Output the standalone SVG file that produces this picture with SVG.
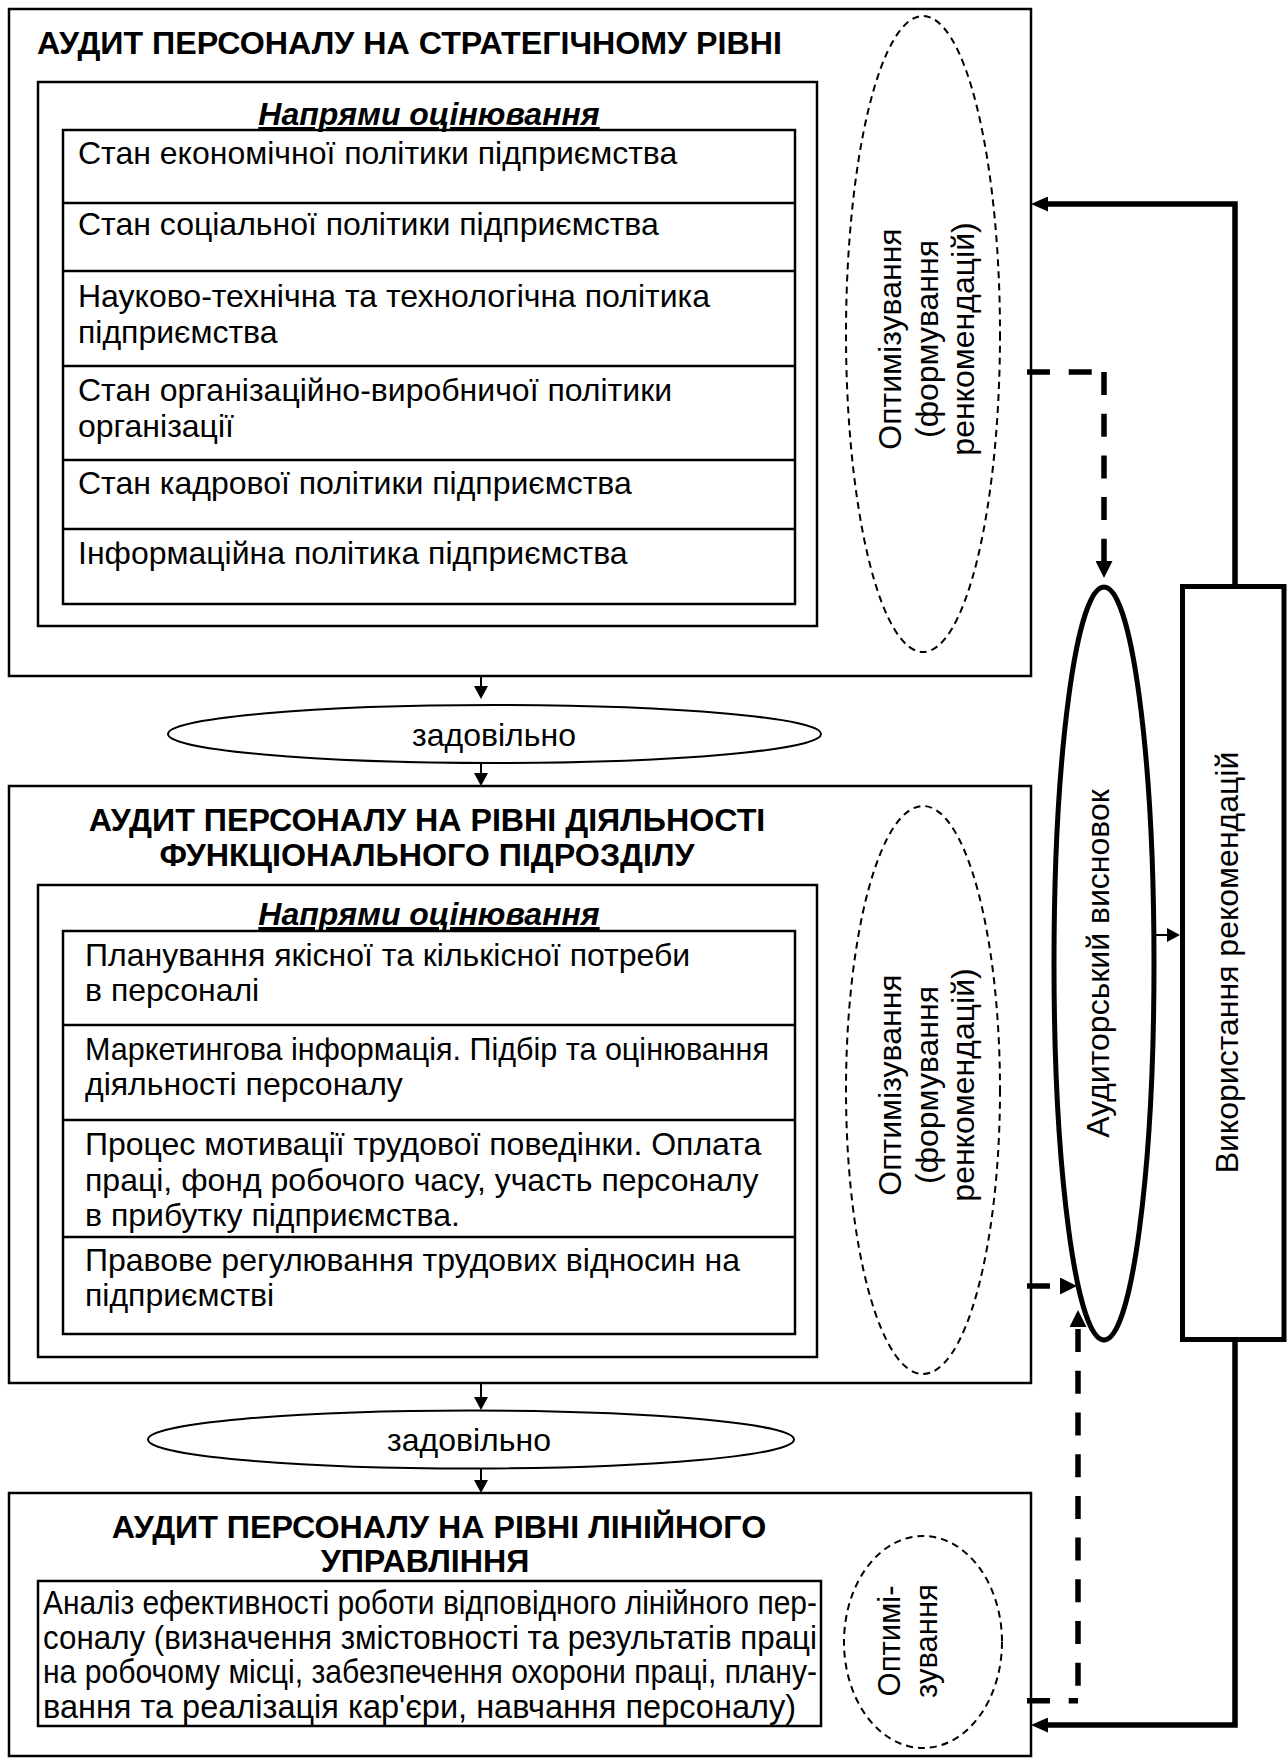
<svg xmlns="http://www.w3.org/2000/svg" width="1287" height="1758" viewBox="0 0 1287 1758">
<style>
.box{fill:none;stroke:#000;stroke-width:2.5}
.ln{fill:none;stroke:#000;stroke-width:2.5}
.t{font-family:"Liberation Sans",Arial,sans-serif;font-size:32px;fill:#000}
.b{font-weight:bold;font-size:32.2px}
.bi{font-weight:bold;font-style:italic;text-decoration:underline}
.s3{font-size:32.5px}
.dell{fill:none;stroke:#000;stroke-width:2;stroke-dasharray:7 5}
.ell{fill:#fff;stroke:#000;stroke-width:2}
.thin{fill:none;stroke:#000;stroke-width:2}
.thick{fill:none;stroke:#000;stroke-width:5.5}
.dash{fill:none;stroke:#000;stroke-width:5.5;stroke-dasharray:23 18.7}
</style>
<defs>
<marker id="as" markerUnits="userSpaceOnUse" viewBox="0 0 13 14" markerWidth="13" markerHeight="14" refX="0" refY="7" orient="auto"><path d="M0,0 L13,7 L0,14 Z" fill="#000"/></marker>
<marker id="ah" markerUnits="userSpaceOnUse" viewBox="0 0 17 15" markerWidth="17" markerHeight="15" refX="0" refY="7.5" orient="auto"><path d="M0,0 L17,7.5 L0,15 Z" fill="#000"/></marker>
<marker id="ad" markerUnits="userSpaceOnUse" viewBox="0 0 17 17" markerWidth="17" markerHeight="17" refX="0" refY="8.5" orient="auto"><path d="M0,0 L17,8.5 L0,17 Z" fill="#000"/></marker>
</defs>
<rect width="1287" height="1758" fill="#fff"/>

<g id="level-strategic">
<rect class="box" x="9" y="9" width="1022" height="667"/>
<text class="t b" x="37" y="54">АУДИТ ПЕРСОНАЛУ НА СТРАТЕГІЧНОМУ РІВНІ</text>
<rect class="box" x="38" y="82" width="779" height="544"/>
<text class="t bi" x="429" y="125" text-anchor="middle">Напрями оцінювання</text>
<rect class="box" x="63" y="130" width="732" height="474"/>
<path class="ln" d="M63,203H795M63,271H795M63,366H795M63,460H795M63,529H795"/>
<text class="t" x="78" y="164">Стан економічної політики підприємства</text>
<text class="t" x="78" y="235">Стан соціальної політики підприємства</text>
<text class="t" x="78" y="307">Науково-технічна та технологічна політика</text>
<text class="t" x="78" y="343">підприємства</text>
<text class="t" x="78" y="401">Стан організаційно-виробничої політики</text>
<text class="t" x="78" y="437">організації</text>
<text class="t" x="78" y="494">Стан кадрової політики підприємства</text>
<text class="t" x="78" y="564">Інформаційна політика підприємства</text>
</g>

<g id="opt-1">
<ellipse class="dell" cx="923" cy="334" rx="77" ry="318"/>
<text class="t" transform="translate(901,339) rotate(-90)" text-anchor="middle">Оптимізування</text>
<text class="t" transform="translate(937.5,339) rotate(-90)" text-anchor="middle">(формування</text>
<text class="t" transform="translate(974,339) rotate(-90)" text-anchor="middle">ренкомендацій)</text>
</g>

<g id="ok-1">
<ellipse class="ell" cx="494.5" cy="734" rx="326.5" ry="29"/>
<text class="t" x="494" y="746" text-anchor="middle">задовільно</text>
</g>

<g id="level-functional">
<rect class="box" x="9" y="786" width="1022" height="597"/>
<text class="t b" x="427" y="831" text-anchor="middle">АУДИТ ПЕРСОНАЛУ НА РІВНІ ДІЯЛЬНОСТІ</text>
<text class="t b" x="427" y="866" text-anchor="middle">ФУНКЦІОНАЛЬНОГО ПІДРОЗДІЛУ</text>
<rect class="box" x="38" y="885" width="779" height="472"/>
<text class="t bi" x="429" y="925" text-anchor="middle">Напрями оцінювання</text>
<rect class="box" x="63" y="931" width="732" height="403"/>
<path class="ln" d="M63,1025H795M63,1120H795M63,1237H795"/>
<text class="t" x="85" y="966">Планування якісної та кількісної потреби</text>
<text class="t" x="85" y="1001">в персоналі</text>
<text class="t" x="85" y="1060" textLength="684" lengthAdjust="spacingAndGlyphs">Маркетингова інформація. Підбір та оцінювання</text>
<text class="t" x="85" y="1095">діяльності персоналу</text>
<text class="t" x="85" y="1155">Процес мотивації трудової поведінки. Оплата</text>
<text class="t" x="85" y="1190.5">праці, фонд робочого часу, участь персоналу</text>
<text class="t" x="85" y="1226">в прибутку підприємства.</text>
<text class="t" x="85" y="1271">Правове регулювання трудових відносин на</text>
<text class="t" x="85" y="1306">підприємстві</text>
</g>

<g id="opt-2">
<ellipse class="dell" cx="923" cy="1090" rx="77" ry="284"/>
<text class="t" transform="translate(901,1085) rotate(-90)" text-anchor="middle">Оптимізування</text>
<text class="t" transform="translate(937.5,1085) rotate(-90)" text-anchor="middle">(формування</text>
<text class="t" transform="translate(974,1085) rotate(-90)" text-anchor="middle">ренкомендацій)</text>
</g>

<g id="ok-2">
<ellipse class="ell" cx="471" cy="1439.5" rx="323" ry="29"/>
<text class="t" x="469" y="1451" text-anchor="middle">задовільно</text>
</g>

<g id="level-line">
<rect class="box" x="9" y="1493" width="1022" height="263"/>
<text class="t b" x="439" y="1538" text-anchor="middle">АУДИТ ПЕРСОНАЛУ НА РІВНІ ЛІНІЙНОГО</text>
<text class="t b" x="425" y="1572" text-anchor="middle">УПРАВЛІННЯ</text>
<rect class="box" x="38" y="1581" width="783" height="145"/>
<text class="t s3" x="43" y="1614" textLength="774" lengthAdjust="spacingAndGlyphs">Аналіз ефективності роботи відповідного лінійного пер-</text>
<text class="t s3" x="43" y="1648.5" textLength="774" lengthAdjust="spacingAndGlyphs">соналу (визначення змістовності та результатів праці</text>
<text class="t s3" x="43" y="1683" textLength="774" lengthAdjust="spacingAndGlyphs">на робочому місці, забезпечення охорони праці, плану-</text>
<text class="t s3" x="43" y="1717.5">вання та реалізація кар'єри, навчання персоналу)</text>
</g>

<g id="opt-3">
<ellipse class="dell" cx="923" cy="1642" rx="79" ry="106"/>
<text class="t" style="font-size:31px" transform="translate(900,1641) rotate(-90)" text-anchor="middle">Оптимі-</text>
<text class="t" style="font-size:31px" transform="translate(937,1641) rotate(-90)" text-anchor="middle">зування</text>
</g>

<g id="audit-conclusion">
<ellipse fill="#fff" stroke="#000" stroke-width="5" cx="1104" cy="963.5" rx="50" ry="376.5"/>
<text class="t" transform="translate(1109,963.5) rotate(-90)" text-anchor="middle">Аудиторський висновок</text>
</g>

<g id="use-recommendations">
<rect fill="#fff" stroke="#000" stroke-width="5" x="1182.5" y="586.5" width="101.5" height="753"/>
<text class="t" transform="translate(1238,962.5) rotate(-90)" text-anchor="middle">Використання рекомендацій</text>
</g>

<g id="connectors">
<path class="thin" d="M481,677V686" marker-end="url(#as)"/>
<path class="thin" d="M481,763V773" marker-end="url(#as)"/>
<path class="thin" d="M481,1383V1397" marker-end="url(#as)"/>
<path class="thin" d="M481,1468V1480" marker-end="url(#as)"/>
<path class="thin" d="M1154,935H1167" marker-end="url(#as)"/>
<path class="thick" d="M1235,585V204H1048" marker-end="url(#ah)"/>
<path class="thick" d="M1235,1342V1725H1048" marker-end="url(#ah)"/>
<path class="dash" d="M1027,372H1104"/>
<path class="dash" d="M1104,372V561" marker-end="url(#ad)"/>
<path class="dash" d="M1027,1286H1060" marker-end="url(#ad)"/>
<path class="dash" d="M1027,1700.7H1078"/>
<path class="dash" style="stroke-dashoffset:26.7" d="M1078,1700.7V1327" marker-end="url(#ad)"/>
</g>
</svg>
